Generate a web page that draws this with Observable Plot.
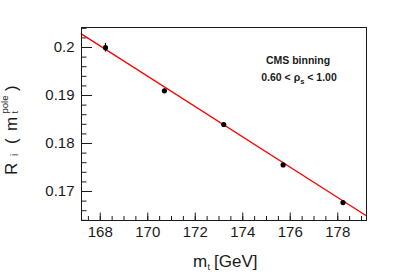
<!DOCTYPE html>
<html><head><meta charset="utf-8">
<script src="https://cdn.jsdelivr.net/npm/d3@7"></script>
<script src="https://cdn.jsdelivr.net/npm/@observablehq/plot@0.6"></script>
<style>
body{margin:0;background:#fff}
#chart{position:relative;width:407px;height:276px;overflow:hidden}
svg{font-family:"Liberation Sans",Arial,Helvetica,sans-serif}
</style>
</head><body><div id="chart"></div>
<script>
// data
const massValues  = [168.22, 170.70, 173.20, 175.70, 178.22];
const ratioValues = [0.19996, 0.19098, 0.18396, 0.17554, 0.16770];
const ratioErrors = [0.0009, 0.0004, 0.0002, 0.0002, 0.0003];
const fitMass  = [167.2, 179.2];
const fitRatio = [0.20285, 0.16494];
const xMajorTicks = [168, 170, 172, 174, 176, 178];
const xTickLabels = ["168", "170", "172", "174", "176", "178"];
const yMajorTicks = [0.17, 0.18, 0.19, 0.20];
const yTickLabels = ["0.17", "0.18", "0.19", "0.2"];
const xMinorTicks = [167.5,168,168.5,169,169.5,170,170.5,171,171.5,172,172.5,173,173.5,174,174.5,175,175.5,176,176.5,177,177.5,178,178.5,179];
const yMinorTicks = [0.164,0.166,0.168,0.170,0.172,0.174,0.176,0.178,0.180,0.182,0.184,0.186,0.188,0.190,0.192,0.194,0.196,0.198,0.200,0.202,0.204];
const xDomain = [167.21, 179.21];
const yDomain = [0.16396, 0.20417];

const points = massValues.map((m, i) => ({m, r: ratioValues[i], e: ratioErrors[i]}));
const fit = fitMass.map((m, i) => ({m, r: fitRatio[i]}));

const W = 407, H = 276, ML = 81, MR = 41, MT = 27, MB = 56;
const PW = W - ML - MR, PH = H - MT - MB;
const ink = "#1a1a1a";

const chart = Plot.plot({
  width: W, height: H,
  marginLeft: ML, marginRight: MR, marginTop: MT, marginBottom: MB,
  style: {fontFamily: '"Liberation Sans",Arial,Helvetica,sans-serif', background: "#fff", color: ink},
  x: {domain: xDomain},
  y: {domain: yDomain},
  marks: [
    Plot.tickX(xMinorTicks, {x: d => d, insetTop: PH - 4, stroke: ink, strokeWidth: 1}),
    Plot.tickX(xMajorTicks, {x: d => d, insetTop: PH - 7.5, stroke: ink, strokeWidth: 1}),
    Plot.tickY(yMinorTicks, {y: d => d, insetRight: PW - 5.5, stroke: ink, strokeWidth: 1}),
    Plot.tickY(yMajorTicks, {y: d => d, insetRight: PW - 11, stroke: ink, strokeWidth: 1}),
    Plot.axisX({ticks: xMajorTicks, tickSize: 0, tickPadding: 6, fontSize: 15, label: null,
      tickFormat: d => xTickLabels[xMajorTicks.indexOf(d)]}),
    Plot.axisY({ticks: yMajorTicks, tickSize: 0, tickPadding: 7, fontSize: 15, label: null,
      tickFormat: d => yTickLabels[yMajorTicks.findIndex(v => Math.abs(v - d) < 1e-9)]}),
    Plot.line(fit, {x: "m", y: "r", stroke: "#ff0000", strokeWidth: 1.3}),
    Plot.ruleX(points, {x: "m", y1: d => d.r - d.e, y2: d => d.r + d.e, stroke: "#000", strokeWidth: 1.2}),
    Plot.dot(points, {x: "m", y: "r", r: 2.6, fill: "#000", stroke: "none"}),
    Plot.frame({stroke: ink, strokeWidth: 1})
  ]
});
document.getElementById("chart").appendChild(chart);

const svg = d3.select(chart);
const ff = '"Liberation Sans",Arial,Helvetica,sans-serif';

// x title
const xt = svg.append("text").attr("text-anchor", "start")
  .attr("font-family", ff).attr("font-size", 17).attr("fill", ink);
xt.append("tspan").attr("x", 193).attr("y", 267).text("m");
xt.append("tspan").attr("x", 207.5).attr("y", 269.5).attr("font-size", 9).text("t");
xt.append("tspan").attr("x", 214).attr("y", 267).text("[GeV]");

// y title (rotated frame: x = distance along text, y = offset from baseline)
const yt = svg.append("text").attr("transform", "translate(16.7,175) rotate(-90)").attr("text-anchor", "start")
  .attr("font-family", ff).attr("font-size", 17).attr("fill", ink);
yt.append("tspan").attr("x", 0).attr("y", 0).text("R");
yt.append("tspan").attr("x", 19).attr("y", 1.5).attr("font-size", 10).text("i");
yt.append("tspan").attr("x", 31).attr("y", 0).text("(");
yt.append("tspan").attr("x", 44).attr("y", 0).text("m");
yt.append("tspan").attr("x", 61.5).attr("y", 1.5).attr("font-size", 9).text("t");
yt.append("tspan").attr("x", 61.5).attr("y", -8.5).attr("font-size", 9.5).text("pole");
yt.append("tspan").attr("x", 84).attr("y", 0).text(")");

// annotation
svg.append("text").attr("x", 298).attr("y", 64).attr("text-anchor", "middle")
  .attr("font-family", ff).attr("font-size", 10.5).attr("font-weight", "bold").attr("fill", ink)
  .text("CMS binning");
const an = svg.append("text").attr("x", 299).attr("y", 81).attr("text-anchor", "middle")
  .attr("font-family", ff).attr("font-size", 10.5).attr("font-weight", "bold").attr("fill", ink);
an.append("tspan").text("0.60 < \u03c1");
an.append("tspan").attr("font-size", 7.5).attr("dy", 2.5).text("s");
an.append("tspan").attr("dy", -2.5).text(" < 1.00");
</script>
</body></html>
